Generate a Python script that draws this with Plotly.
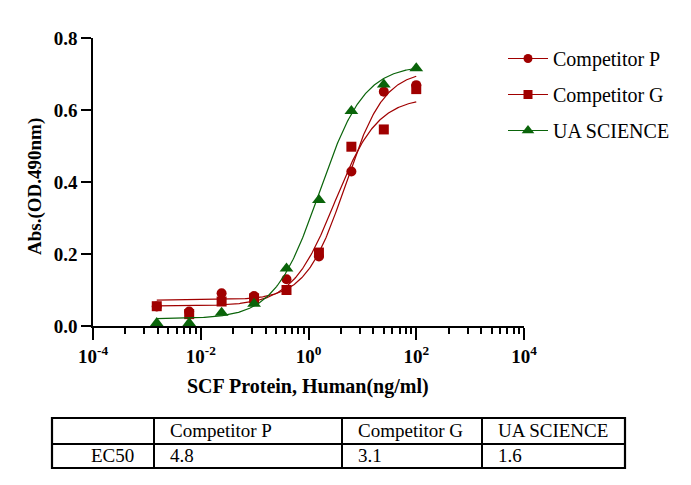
import numpy as np
import plotly.graph_objects as go

# ---------------- data ----------------
conc = [0.001526, 0.0061, 0.0244, 0.0977, 0.3906, 1.5625, 6.25, 25.0, 100.0]
comp_p = [0.054, 0.040, 0.091, 0.083, 0.130, 0.193, 0.429, 0.651, 0.669]
comp_g = [0.055, 0.033, 0.068, 0.077, 0.100, 0.204, 0.498, 0.546, 0.658]
ua_sci = [0.008, 0.008, 0.037, 0.062, 0.160, 0.350, 0.597, 0.671, 0.716]

series_names = ["Competitor P", "Competitor G", "UA SCIENCE"]
# 4PL fit parameters (bottom, top, EC50, hill)
fit_p = [0.072, 0.71, 4.8, 1.2]
fit_g = [0.056, 0.635, 3.1, 1.1]
fit_ua = [0.020, 0.725, 1.6, 1.05]

x_tick_vals = [1e-4, 1e-2, 1e0, 1e2, 1e4]
x_tick_text = ["10<sup>-4</sup>", "10<sup>-2</sup>", "10<sup>0</sup>", "10<sup>2</sup>", "10<sup>4</sup>"]
y_tick_vals = [0.0, 0.2, 0.4, 0.6, 0.8]
y_tick_text = ["0.0", "0.2", "0.4", "0.6", "0.8"]

x_title = "SCF Protein, Human(ng/ml)"
y_title = "Abs.(OD.490nm)"

table_header = ["", "Competitor P", "Competitor G", "UA SCIENCE"]
table_row_label = ["EC50"]
ec50_p = ["4.8"]
ec50_g = ["3.1"]
ec50_ua = ["1.6"]

# ---------------- styling ----------------
RED = "#A00000"
GREEN = "#0A640A"
FONT = "Liberation Serif"
OFF = 8                 # page body margin of the browser
FW, FH = 691 - OFF, 485 - OFF


def xp(px):
    return (px - OFF) / FW


def yp(py):
    return 1 - (py - OFF) / FH


def fourpl(x, p):
    b, t, ec, h = p
    x = np.asarray(x, dtype=float)
    return b + (t - b) / (1.0 + (ec / x) ** h)


xs = np.logspace(np.log10(min(conc)), np.log10(max(conc)), 300)

# minor ticks inside each two-decade interval
minor_vals = []
for base in x_tick_vals[:-1]:
    for k in range(2, 10):
        minor_vals.append(base * k * k)

fig = go.Figure()

specs = [
    (series_names[0], comp_p, fit_p, RED, "circle", 10),
    (series_names[1], comp_g, fit_g, RED, "square", 10),
    (series_names[2], ua_sci, fit_ua, GREEN, "triangle-up", 12),
]

for name, ys, fp, col, sym, sz in specs:
    fig.add_trace(go.Scatter(
        x=xs, y=fourpl(xs, fp), mode="lines",
        line=dict(color=col, width=1.2), showlegend=False, hoverinfo="skip",
        legendgroup=name,
    ))
    fig.add_trace(go.Scatter(
        x=conc, y=ys, mode="markers",
        marker=dict(color=col, symbol=sym, size=sz, line=dict(width=0)),
        showlegend=False, legendgroup=name, name=name,
    ))
    # legend entry (line + marker)
    fig.add_trace(go.Scatter(
        x=[None], y=[None], mode="lines+markers", name=name,
        line=dict(color=col, width=1),
        marker=dict(color=col, symbol=sym, size=sz - 1),
        legendgroup=name, showlegend=True,
    ))

# ---------------- table (shapes + text from the table arrays) ----------------
tbl_left, tbl_right, tbl_top, tbl_mid, tbl_bot = 52, 625, 418, 444, 468
col_edges = [52, 154, 342, 482, 625]
col_text_x = [136, 168, 356, 496]
col_anchor = ["right", "left", "left", "left"]
row_y = [430, 455]

shapes = [
    dict(type="rect", xref="paper", yref="paper",
         x0=xp(tbl_left), x1=xp(tbl_right), y0=yp(tbl_bot), y1=yp(tbl_top),
         line=dict(color="black", width=2.2), fillcolor="rgba(0,0,0,0)"),
    dict(type="line", xref="paper", yref="paper",
         x0=xp(tbl_left), x1=xp(tbl_right), y0=yp(tbl_mid), y1=yp(tbl_mid),
         line=dict(color="black", width=2)),
]
for xe in col_edges[1:-1]:
    shapes.append(dict(type="line", xref="paper", yref="paper",
                       x0=xp(xe), x1=xp(xe), y0=yp(tbl_bot), y1=yp(tbl_top),
                       line=dict(color="black", width=2)))

row_values = [table_row_label[0], ec50_p[0], ec50_g[0], ec50_ua[0]]
annotations = []
for rvals, ry in ((table_header, row_y[0]), (row_values, row_y[1])):
    for txt, tx, anc in zip(rvals, col_text_x, col_anchor):
        if not txt:
            continue
        annotations.append(dict(
            text=txt, xref="paper", yref="paper", x=xp(tx), y=yp(ry),
            xanchor=anc, yanchor="middle", showarrow=False,
            font=dict(family=FONT, size=19, color="black")))

annotations += [
    dict(text=x_title, xref="paper", yref="paper", x=xp(308), y=yp(386),
         xanchor="center", yanchor="middle", showarrow=False,
         font=dict(family=FONT, size=20, color="black", weight="bold")),
    dict(text=y_title, xref="paper", yref="paper", x=xp(35), y=yp(187),
         xanchor="center", yanchor="middle", showarrow=False, textangle=-90,
         font=dict(family=FONT, size=19, color="black", weight="bold")),
]

fig.update_layout(
    width=FW, height=FH,
    margin=dict(l=0, r=0, t=0, b=0),
    paper_bgcolor="white", plot_bgcolor="white",
    font=dict(family=FONT, color="black"),
    legend=dict(
        x=xp(503), y=yp(39), xanchor="left", yanchor="top",
        font=dict(family=FONT, size=20, color="black"),
        bgcolor="rgba(0,0,0,0)", tracegroupgap=7, traceorder="grouped",
        itemwidth=40,
    ),
    xaxis=dict(
        type="log", range=[-4, 4],
        domain=[xp(93), xp(524)],
        showgrid=False, zeroline=False,
        showline=True, linecolor="black", linewidth=1.5,
        ticks="outside", ticklen=12, tickwidth=1.5, tickcolor="black",
        tickmode="array", tickvals=x_tick_vals, ticktext=x_tick_text,
        tickfont=dict(family=FONT, size=19, color="black", weight="bold"),
        minor=dict(tickmode="array", tickvals=minor_vals, ticks="outside",
                   ticklen=6, tickwidth=1.5, tickcolor="black", showgrid=False),
        automargin=False,
    ),
    yaxis=dict(
        range=[0, 0.8],
        domain=[yp(326), yp(38)],
        showgrid=False, zeroline=False,
        showline=True, linecolor="black", linewidth=1.5,
        ticks="outside", ticklen=10, tickwidth=1.5, tickcolor="black",
        tickmode="array", tickvals=y_tick_vals, ticktext=y_tick_text,
        tickfont=dict(family=FONT, size=19, color="black", weight="bold"),
        automargin=False,
    ),
    shapes=shapes,
    annotations=annotations,
)

fig.write_html("out.html")
